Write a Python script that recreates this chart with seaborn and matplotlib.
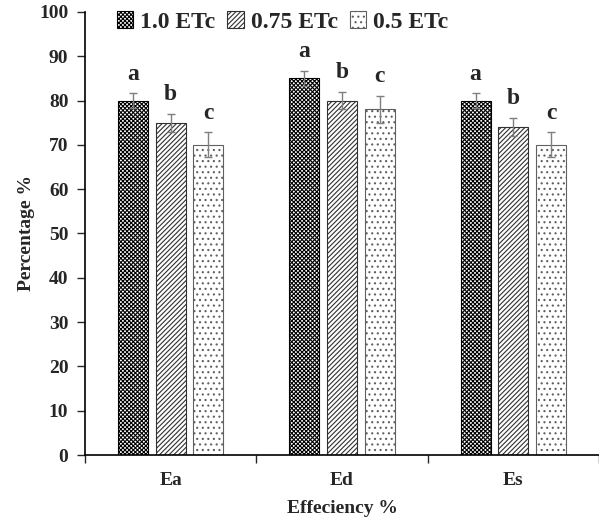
import pandas as pd
import seaborn as sns
import matplotlib.pyplot as plt

sns.set_theme(style="white")
plt.rcParams["font.family"] = ["Liberation Serif", "DejaVu Serif"]
plt.rcParams["font.weight"] = "bold"
plt.rcParams["hatch.linewidth"] = 0.8

categories = ["Ea", "Ed", "Es"]
treatments = ["1.0 ETc", "0.75 ETc", "0.5 ETc"]
vals_10 = [80, 85, 80]
vals_075 = [75, 80, 74]
vals_05 = [70, 78, 70]
err_10 = [1.6, 1.6, 1.6]
err_075 = [2.0, 2.0, 2.0]
err_05 = [2.8, 3.0, 2.8]
letters = ["a", "b", "c"]

rows = []
for t, vals, errs in zip(treatments, [vals_10, vals_075, vals_05], [err_10, err_075, err_05]):
    for c, v, e in zip(categories, vals, errs):
        rows.append({"cat": c, "treat": t, "val": v, "err": e})
df = pd.DataFrame(rows)

fig = plt.figure(figsize=(5.99, 5.2), dpi=100)
ax = fig.add_axes([0.142, 0.125, 0.858, 0.852])

hatches = ["xxxxxxxx", "///////", "..."]
edges = ["black", "#303030", "#606060"]
sns.barplot(data=df, x="cat", y="val", hue="treat", hue_order=treatments,
            order=categories, palette=["white"] * 3, width=0.66, gap=0.2,
            errorbar=None, edgecolor="black", linewidth=0.8, ax=ax)

for i, (cont, h, t) in enumerate(zip(ax.containers, hatches, treatments)):
    sub = df[df["treat"] == t].set_index("cat").loc[categories]
    for bar, v, e in zip(cont, sub["val"], sub["err"]):
        bar.set_hatch(h)
        bar.set_edgecolor(edges[i])
        cx = bar.get_x() + bar.get_width() / 2
        ax.errorbar(cx, v, yerr=e, color="#7f7f7f", capsize=3, elinewidth=1, capthick=1)
        ax.text(cx, v + e + 2.0, letters[i], ha="center", va="bottom", fontsize=17, fontweight="bold")

ax.set_ylim(0, 100)
ax.set_xlim(-0.5, 2.5)
ax.set_yticks(range(0, 101, 10))
ax.set_xticks([-0.5, 0.5, 1.5, 2.5], minor=True)
ax.tick_params(axis="x", which="major", length=0, labelsize=14, pad=12)
ax.tick_params(axis="x", which="minor", length=6, width=1, direction="out", bottom=True)
ax.tick_params(axis="y", length=6, width=1, direction="out", labelsize=14, left=True, pad=6)
for lab in ax.get_xticklabels() + ax.get_yticklabels():
    lab.set_fontweight("bold")
sns.despine(ax=ax)
for s in ["left", "bottom"]:
    ax.spines[s].set_color("black")
    ax.spines[s].set_linewidth(1.2)

ax.set_xlabel("Effeciency %", fontsize=14, fontweight="bold", labelpad=8)
ax.set_ylabel("Percentage %", fontsize=14, fontweight="bold", labelpad=3)

leg = ax.legend(loc="upper left", bbox_to_anchor=(0.02, 1.05), ncol=3, frameon=False,
                prop={"size": 17, "weight": "bold"}, handlelength=0.7, handleheight=0.7,
                handletextpad=0.3, columnspacing=0.5)
for hnd, h, ec in zip(leg.get_patches(), hatches, edges):
    hnd.set_hatch(h)
    hnd.set_edgecolor(ec)

plt.savefig("out.png", dpi=100)
plt.close()
